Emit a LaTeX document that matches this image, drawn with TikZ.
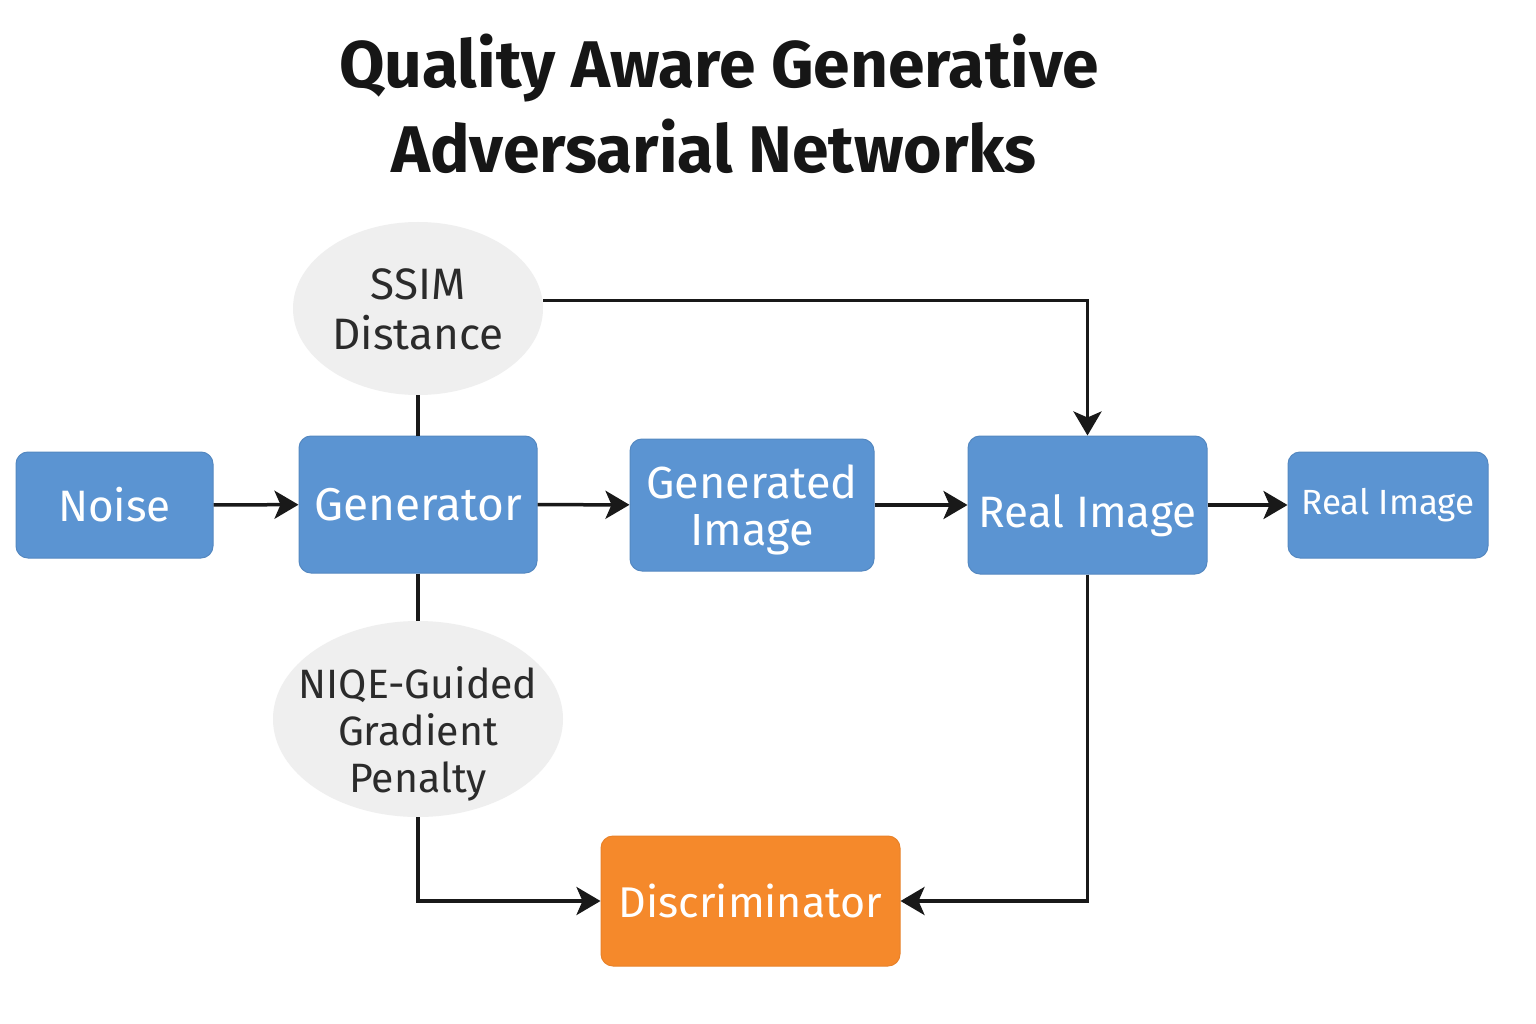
\documentclass[tikz,border=0pt]{standalone}
\usepackage{fontspec}
\setmainfont{Fira Sans}
\usetikzlibrary{arrows.meta,shapes.geometric}
\definecolor{boxblue}{HTML}{5B94D2}
\definecolor{boxorange}{HTML}{F5892B}
\definecolor{ellgray}{HTML}{EFEFEF}
\definecolor{txtdark}{HTML}{2B2B2B}
\definecolor{titlecol}{HTML}{161616}
\begin{document}
\begin{tikzpicture}[x=1pt,y=-1pt,
  bluebox/.style={draw=boxblue!92!black, line width=1pt, fill=boxblue, rounded corners=12pt,
    text=white, inner sep=0pt, align=center, font=\fontsize{46}{50}\selectfont},
  orangebox/.style={bluebox, draw=boxorange!95!black, fill=boxorange},
  graybubble/.style={ellipse, fill=ellgray, draw=none, inner xsep=-60pt, inner ysep=-40pt},
  bubbletext/.style={align=center, text=txtdark, inner sep=0pt, font=\fontsize{44}{50}\selectfont},
  conn/.style={line width=3.5pt, draw=black!90},
  arr/.style={conn, -{Stealth[length=24pt,width=28pt,inset=6pt]}},
  titletext/.style={font=\bfseries\fontsize{66}{80}\selectfont, text=titlecol, inner sep=0pt, anchor=base}
]
\useasboundingbox (0,0) rectangle (1536,1024);
\fill[white] (0,0) rectangle (1536,1024);

\node[titletext] (t1) at (719,88) {Quality Aware Generative};
\node[titletext] (t2) at (714,173) {Adversarial Networks};

\node[bluebox, minimum width=197pt, minimum height=106pt, font=\fontsize{44}{50}\selectfont] (noise) at (114.5,505) {Noise};
\node[bluebox, minimum width=238pt, minimum height=137pt] (gen) at (418,504.5) {Generator};
\node[bluebox, minimum width=244pt, minimum height=132pt, font=\fontsize{45}{48}\selectfont] (genimg) at (752,505) {\raisebox{-7pt}[\height][\depth]{\begin{tabular}{@{}c@{}}Generated\\[-1pt]Image\end{tabular}}};
\node[bluebox, minimum width=239pt, minimum height=138pt, font=\fontsize{44}{50}\selectfont] (real) at (1087.5,505) {\raisebox{-11pt}[\height][\depth]{Real Image}};
\node[bluebox, minimum width=200pt, minimum height=106pt, font=\fontsize{35}{40}\selectfont] (real2) at (1388,505) {Real Image};

\node[graybubble, minimum width=250pt, minimum height=173pt] (ssim) at (418,308.5) {};
\node[bubbletext] (ssimtext) at (418,309) {SSIM\\Distance};
\node[graybubble, minimum width=290pt, minimum height=196pt] (niqe) at (418,719) {};
\node[bubbletext, font=\fontsize{41}{47}\selectfont] (niqetext) at (418,734) {NIQE-Guided\\Gradient\\Penalty};

\node[orangebox, minimum width=299pt, minimum height=130pt, font=\fontsize{43}{50}\selectfont] (disc) at (750.5,901) {Discriminator};

\draw[arr] (noise) -- (gen);
\draw[arr] (gen) -- (genimg);
\draw[arr] (genimg) -- (real);
\draw[arr] (real) -- (real2);
\draw[conn] (ssim) -- (gen);
\draw[conn] (gen) -- (niqe);
\draw[arr] ([yshift=8pt]ssim.east) -| (real.north);
\draw[arr] (niqe.south) |- (disc.west);
\draw[arr] (real.south) |- (disc.east);
\end{tikzpicture}
\end{document}
